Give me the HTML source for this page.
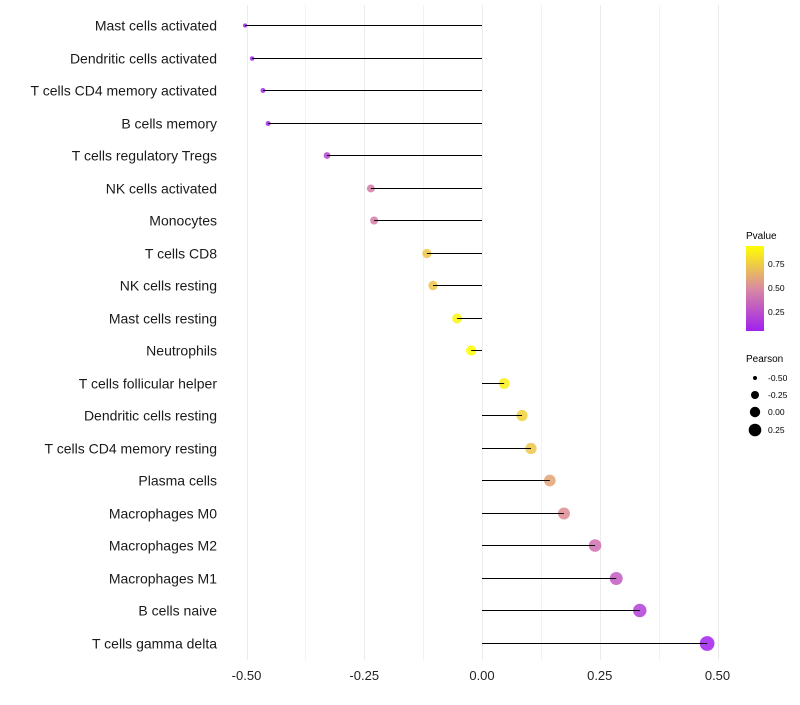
<!DOCTYPE html>
<html><head><meta charset="utf-8"><style>
body{margin:0;background:#fff;font-family:"Liberation Sans",sans-serif}
svg text{font-family:"Liberation Sans",sans-serif}
</style></head><body>
<svg id="chart" width="800" height="700" xmlns="http://www.w3.org/2000/svg">
<g id="grid"></g><g id="dots"></g><g id="marks"></g><g id="labels"></g>
<g id="legend">
<defs><linearGradient id="pg" x1="0" y1="1" x2="0" y2="0">
<stop offset="0" stop-color="#a020f0"/><stop offset="0.5" stop-color="#d98aa0"/><stop offset="1" stop-color="#ffff00"/></linearGradient></defs>
<text x="746" y="239" font-size="10">Pvalue</text>
<rect x="746" y="246" width="18" height="85" fill="url(#pg)"/>
<text x="768" y="267" font-size="8.5">0.75</text>
<text x="768" y="291" font-size="8.5">0.50</text>
<text x="768" y="315" font-size="8.5">0.25</text>
<text x="746" y="362" font-size="10">Pearson</text>
<circle cx="755" cy="378" r="2" fill="#000"/>
<text x="768" y="381" font-size="8.5">-0.50</text>
<circle cx="755" cy="395" r="4" fill="#000"/>
<text x="768" y="398" font-size="8.5">-0.25</text>
<circle cx="755" cy="412" r="5.2" fill="#000"/>
<text x="768" y="415" font-size="8.5">0.00</text>
<circle cx="755" cy="430" r="6.3" fill="#000"/>
<text x="768" y="433" font-size="8.5">0.25</text>
</g>
</svg>
<script>
const categories=["Mast cells activated","Dendritic cells activated","T cells CD4 memory activated","B cells memory","T cells regulatory  Tregs ","NK cells activated","Monocytes","T cells CD8","NK cells resting","Mast cells resting","Neutrophils","T cells follicular helper","Dendritic cells resting","T cells CD4 memory resting","Plasma cells","Macrophages M0","Macrophages M2","Macrophages M1","B cells naive","T cells gamma delta"];
const pearson=[-0.503,-0.488,-0.465,-0.454,-0.329,-0.236,-0.229,-0.117,-0.104,-0.053,-0.023,0.047,0.085,0.104,0.144,0.174,0.240,0.285,0.335,0.478];
const pvalue=[0.03,0.03,0.05,0.06,0.2,0.45,0.45,0.72,0.72,0.88,0.92,0.86,0.76,0.72,0.6,0.52,0.4,0.3,0.18,0.05];
const xTicks=[-0.5,-0.25,0,0.25,0.5];
const xTickLabels=["-0.50","-0.25","0.00","0.25","0.50"];
const NS="http://www.w3.org/2000/svg";
const x=v=>482+v*471;
const y=i=>Math.round(25+i*32.5)+0.5;
const r=v=>5.2+v*4.5-(v<0?v*v*3:0);
function col(p){const t=Math.max(0,Math.min(1,(p-0.04)/0.88));
const a=[160,32,240],m=[217,128,160],b=[255,255,0];
let c;if(t<0.5){const s=t/0.5;c=a.map((v,k)=>v+(m[k]-v)*s);}else{const s=(t-0.5)/0.5;c=m.map((v,k)=>v+(b[k]-v)*s);}
return `rgb(${c.map(Math.round).join(',')})`;}
function mk(tag,attrs,parent){const e=document.createElementNS(NS,tag);for(const k in attrs)e.setAttribute(k,attrs[k]);document.getElementById(parent).appendChild(e);return e;}
const minor=[-0.375,-0.125,0.125,0.375];
minor.forEach(v=>{const l=mk('line',{x1:Math.round(x(v))+0.5,x2:Math.round(x(v))+0.5,y1:5,y2:660,stroke:'#f2f2f2','stroke-width':1},'grid');

});
xTicks.forEach((v,i)=>{const l=mk('line',{x1:Math.round(x(v))+0.5,x2:Math.round(x(v))+0.5,y1:5,y2:660,stroke:'#ebebeb','stroke-width':1},'grid');


const t=mk('text',{x:x(v),y:680,'font-size':13,'text-anchor':'middle',fill:'#222'},'labels');t.textContent=xTickLabels[i];

});
categories.forEach((c,i)=>{
const d=mk('circle',{cx:x(pearson[i]),cy:y(i),r:r(pearson[i]),fill:col(pvalue[i]),'fill-opacity':0.85},'dots');


const l=mk('line',{x1:x(0),x2:x(pearson[i]),y1:y(i),y2:y(i),stroke:'#000','stroke-width':1},'marks');


const t=mk('text',{x:217,y:y(i)+5,'font-size':14,'text-anchor':'end',fill:'#1a1a1a','xml:space':'preserve'},'labels');t.textContent=c;

});
</script>
</body></html>
